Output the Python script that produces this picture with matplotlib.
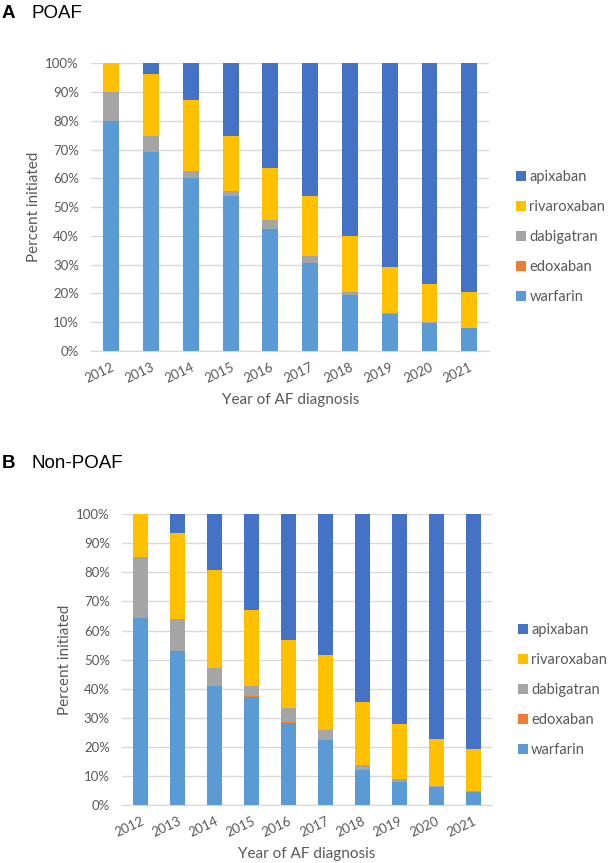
import matplotlib
matplotlib.use("Agg")
import matplotlib.pyplot as plt
import numpy as np

years = ["2012", "2013", "2014", "2015", "2016", "2017", "2018", "2019", "2020", "2021"]
series_names = ["warfarin", "edoxaban", "dabigatran", "rivaroxaban", "apixaban"]
colors = {"warfarin": "#5B9BD5", "edoxaban": "#ED7D31", "dabigatran": "#A5A5A5",
          "rivaroxaban": "#FFC000", "apixaban": "#4472C4"}

# Panel A: POAF (percent)
poaf_warfarin    = [79.8, 69.3, 60.0, 53.9, 42.5, 30.7, 19.6, 12.9, 9.7, 7.9]
poaf_edoxaban    = [0.0, 0.0, 0.0, 0.0, 0.0, 0.0, 0.0, 0.0, 0.0, 0.0]
poaf_dabigatran  = [10.2, 5.3, 2.6, 1.7, 3.0, 2.3, 0.9, 0.3, 0.2, 0.1]
poaf_rivaroxaban = [10.0, 21.6, 24.5, 19.1, 18.1, 20.7, 19.4, 16.1, 13.4, 12.5]
poaf_apixaban    = [0.0, 3.8, 12.9, 25.3, 36.4, 46.3, 60.1, 70.7, 76.7, 79.5]

# Panel B: Non-POAF (percent)
non_warfarin    = [64.3, 53.0, 41.1, 37.0, 28.2, 22.4, 12.1, 8.0, 6.3, 4.6]
non_edoxaban    = [0.0, 0.0, 0.0, 0.6, 0.2, 0.0, 0.0, 0.0, 0.0, 0.0]
non_dabigatran  = [21.1, 10.9, 5.9, 3.5, 5.0, 3.5, 1.6, 1.0, 0.1, 0.1]
non_rivaroxaban = [14.6, 29.8, 33.9, 26.1, 23.5, 25.6, 21.9, 18.7, 16.2, 14.4]
non_apixaban    = [0.0, 6.3, 19.1, 32.8, 43.1, 48.5, 64.4, 72.3, 77.4, 80.9]

FONT = ["Lato", "DejaVu Sans"]
plt.rcParams["font.family"] = FONT
GRAY = "#595959"

fig = plt.figure(figsize=(6.08, 8.63), dpi=100)

def panel(rect, data, letter, title, title_y, leg_x, leg_y):
    ax = fig.add_axes(rect)
    x = np.arange(len(years))
    bottom = np.zeros(len(years))
    handles = {}
    for name in series_names:
        vals = np.array(data[name])
        h = ax.bar(x, vals, width=0.40, bottom=bottom, color=colors[name],
                   zorder=3, linewidth=0)
        handles[name] = h
        bottom += vals
    ax.set_xlim(-0.5, len(years) - 0.5)
    ax.set_ylim(0, 100)
    ax.set_yticks(np.arange(0, 101, 10))
    ax.set_yticklabels([f"{v}%" for v in range(0, 101, 10)])
    ax.set_xticks(x)
    ax.set_xticklabels(years, rotation=25, ha="right", rotation_mode="anchor")
    ax.tick_params(axis="both", length=0, colors=GRAY, labelsize=9.5)
    ax.tick_params(axis="x", pad=7)
    ax.tick_params(axis="y", pad=9)
    ax.grid(axis="y", color="#D9D9D9", linewidth=1, zorder=0)
    for s in ["top", "right", "left"]:
        ax.spines[s].set_visible(False)
    ax.spines["bottom"].set_color("#D9D9D9")
    ax.set_ylabel("Percent initiated", color=GRAY, fontsize=11, labelpad=3)
    ax.set_xlabel("Year of AF diagnosis", color=GRAY, fontsize=11, labelpad=6)
    order = list(reversed(series_names))
    fig.legend([handles[n] for n in order], order, loc="center left",
               bbox_to_anchor=(leg_x, leg_y), frameon=False, fontsize=10.5,
               handlelength=0.7, handleheight=0.7, handletextpad=0.2,
               labelspacing=1.1, labelcolor=GRAY, borderaxespad=0, borderpad=0)
    fig.text(0.003, title_y, letter, fontsize=13.5, fontweight="bold", va="center",
             ha="left", family=["Liberation Sans", "DejaVu Sans"])
    fig.text(0.052, title_y, title, fontsize=13.5, va="center", ha="left",
             family=["Liberation Sans", "DejaVu Sans"])
    return ax

panel([0.1503, 0.5933, 0.6543, 0.3334],
      {"warfarin": poaf_warfarin, "edoxaban": poaf_edoxaban, "dabigatran": poaf_dabigatran,
       "rivaroxaban": poaf_rivaroxaban, "apixaban": poaf_apixaban},
      "A", "POAF", 1 - 13 / 863, 0.849, 0.7254)
panel([0.2012, 0.0672, 0.6075, 0.3369],
      {"warfarin": non_warfarin, "edoxaban": non_edoxaban, "dabigatran": non_dabigatran,
       "rivaroxaban": non_rivaroxaban, "apixaban": non_apixaban},
      "B", "Non-POAF", 1 - 463 / 863, 0.852, 0.2005)

fig.savefig("out.png", dpi=100)
